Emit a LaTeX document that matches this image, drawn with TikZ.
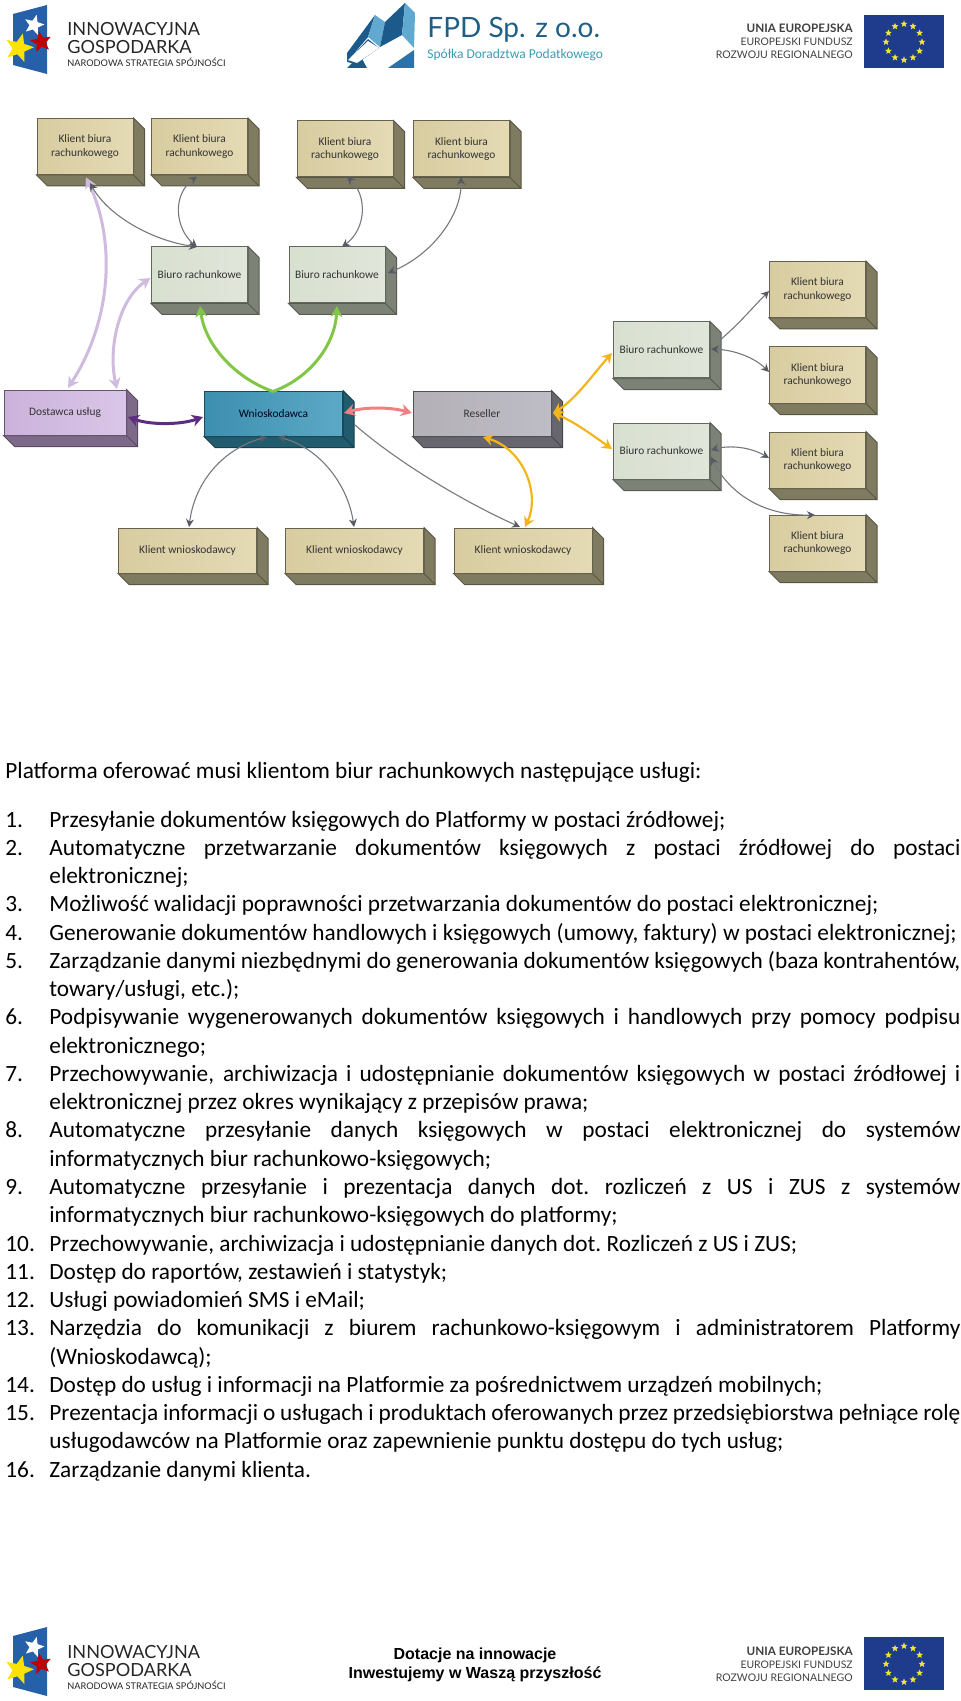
\documentclass[tikz,border=0pt]{standalone}
\usepackage{fontspec}
\setmainfont{Carlito}
\newfontfamily\logofont{Lato}
\newfontfamily\arialfont{Liberation Sans}
\usetikzlibrary{arrows.meta, shapes.geometric}
\hyphenpenalty=10000
\definecolor{beigeA}{HTML}{D8CCA0}
\definecolor{beigeB}{HTML}{E4DAB4}
\definecolor{beigeS}{HTML}{7F7B60}
\definecolor{sageA}{HTML}{D8E0D0}
\definecolor{sageB}{HTML}{E0E6DA}
\definecolor{sageS}{HTML}{7C8276}
\definecolor{lilacA}{HTML}{CBB2DB}
\definecolor{lilacB}{HTML}{DAC6E8}
\definecolor{lilacS}{HTML}{7D6A88}
\definecolor{tealA}{HTML}{3D8FB0}
\definecolor{tealB}{HTML}{5CA9C6}
\definecolor{tealS}{HTML}{215B6E}
\definecolor{greyA}{HTML}{B3B0B8}
\definecolor{greyB}{HTML}{BEBCC4}
\definecolor{greyS}{HTML}{67656D}
\definecolor{linkgrey}{HTML}{75787F}
\definecolor{tipgrey}{HTML}{565A63}
\definecolor{palelilac}{HTML}{CFBBDE}
\definecolor{darkviolet}{HTML}{5E2E7E}
\definecolor{leaf}{HTML}{82C646}
\definecolor{salmon}{HTML}{F47F82}
\definecolor{amber}{HTML}{F2B51C}
\definecolor{fpddark}{HTML}{1C5A8C}
\definecolor{fpdmid}{HTML}{2A72A8}
\definecolor{fpdlight}{HTML}{62A9D2}
\definecolor{fpdtext}{HTML}{1F5F86}
\definecolor{fpdsub}{HTML}{3B9BB5}
\definecolor{igblue}{HTML}{2560A8}
\definecolor{eublue}{HTML}{1F3C8C}
\definecolor{eustar}{HTML}{EFE63A}
\tikzset{
  block/.style n args={3}{draw=#3!80!black, line width=.5pt, left color=#1, right color=#2,
    inner sep=0pt, align=center, text=black!80, font=\fontsize{5.7}{6.6}\selectfont,
    append after command={\pgfextra{\let\LN\tikzlastnode
      \draw[fill=#3, draw=#3!70!black, line width=.5pt] (\LN.north east) -- +(11,11)
        -- ([shift={(11,11)}]\LN.south east) -- ([shift={(11,11)}]\LN.south west)
        -- (\LN.south west) -- (\LN.south east) -- cycle;
      \draw[draw=#3!70!black, line width=.4pt] (\LN.south east) -- +(11,11);}}},
  small/.style={minimum width=48pt, minimum height=28pt},
  wide/.style={minimum width=69pt, minimum height=22.5pt},
  link/.style={draw=linkgrey, line width=.55pt, {Stealth[length=4pt,width=4pt,color=tipgrey]}-{Stealth[length=4pt,width=4pt,color=tipgrey]}},
  oneway/.style={draw=linkgrey, line width=.55pt, -{Stealth[length=4pt,width=4pt,color=tipgrey]}},
  band/.style={draw=#1, line width=1.5pt, {Stealth[length=5.5pt,width=6pt]}-{Stealth[length=5.5pt,width=6pt]}},
  leafband/.style={draw=leaf, line width=1.5pt, -{Stealth[length=5.5pt,width=6pt]}},
  goldband/.style={draw=amber, line width=1.1pt, {Stealth[length=5pt,width=5.5pt]}-{Stealth[length=5pt,width=5.5pt]}},
  item/.style={anchor=base west, inner sep=0pt, text width=455.5pt, align=justify, font=\fontsize{11.65}{14.14}\selectfont},
  itemnum/.style={anchor=base west, inner sep=0pt, font=\fontsize{11.65}{14.14}\selectfont},
  logotxt/.style={anchor=base west, inner sep=0pt, text=black!85, font=\logofont\fontsize{#1}{#1}\selectfont},
  eutxt/.style={anchor=base east, inner sep=0pt, text=black!75, font=\logofont\fontsize{#1}{#1}\selectfont},
  polstar/.style={star, star points=5, star point ratio=2.3, inner sep=0pt, minimum size=#1},
}
\begin{document}
\begin{tikzpicture}[x=0.5pt, y=-0.5pt]
\useasboundingbox (0,0) rectangle (960,1701);

% logos, top and bottom
\foreach \dy in {0,1622} {
\begin{scope}[shift={(0,\dy)}]
    \fill[igblue] (13,14) -- (47,5) -- (47,74) -- (13,65) -- cycle;
    \node[polstar=10.5pt, fill=white, rotate=-15] (igwhite\dy) at (34,25) {};
    \node[polstar=11pt, fill=red!75!black, rotate=10] (igred\dy) at (41,42) {};
    \node[polstar=15pt, fill=yellow!85!orange, rotate=-15] (igyellow\dy) at (19,48) {};
    \node[logotxt=9.05] (iga\dy) at (67,36) {INNOWACYJNA};
    \node[logotxt=9.05] (igb\dy) at (67,54) {GOSPODARKA};
    \node[logotxt=4.6] (igc\dy) at (67,67) {NARODOWA STRATEGIA SPÓJNOŚCI};
    \node[eutxt=5.85, font=\logofont\bfseries\fontsize{5.85}{5.85}\selectfont] (eua\dy) at (853,33) {UNIA EUROPEJSKA};
    \node[eutxt=5.2] (eub\dy) at (853,46) {EUROPEJSKI FUNDUSZ};
    \node[eutxt=5.25] (euc\dy) at (853,59) {ROZWOJU REGIONALNEGO};
    \fill[eublue] (864,15) rectangle (944,68);
    \foreach \a in {0,30,...,330}
        \node[polstar=3.6pt, fill=eustar] (star\a\dy) at ({904+18*cos(\a)},{42+18*sin(\a)}) {};
\end{scope}
}

% fpd logo
\fill[fpddark] (347,53) -- (375,15) -- (368,37) -- (347,62) -- cycle;
\fill[fpdlight] (375,15) -- (385,22) -- (380,47) -- (368,37) -- cycle;
\fill[fpddark] (380,47) -- (385,22) -- (405,3) -- (402,35) -- cycle;
\fill[fpdlight] (405,3) -- (415,13) -- (414,48) -- (402,35) -- cycle;
\fill[fpddark] (347,68) -- (367,68) -- (360,55) -- cycle;
\fill[fpdmid] (388,68) -- (414,50) -- (414,68) -- cycle;
\fill[fpddark] (347,62) -- (368,39) -- (379,48) -- (356,64) -- cycle;
\fill[white] (348,60) -- (368,41) -- (379,48) -- (357,63) -- cycle;
\node[anchor=base west, inner sep=0pt, text=fpdtext, font=\logofont\fontsize{14}{14}\selectfont] (fpdname) at (427,38) {FPD Sp. z o.o.};
\node[anchor=base west, inner sep=0pt, text=fpdsub, font=\fontsize{6.75}{8}\selectfont] (fpdsub) at (427,59) {Spółka Doradztwa Podatkowego};

% bottom slogan
\node[inner sep=0pt, anchor=base, font=\arialfont\bfseries\fontsize{8}{8}\selectfont] (slogana) at (475,1659) {Dotacje na innowacje};
\node[inner sep=0pt, anchor=base, font=\arialfont\bfseries\fontsize{8}{8}\selectfont] (sloganb) at (475,1678) {Inwestujemy w Waszą przyszłość};

% diagram
\node[block={beigeA}{beigeB}{beigeS}, small] (kbA) at (85,146.5) {Klient biura\\rachunkowego};
\node[block={beigeA}{beigeB}{beigeS}, small] (kbB) at (199.5,146.5) {Klient biura\\rachunkowego};
\node[block={beigeA}{beigeB}{beigeS}, small] (kbC) at (345,149) {Klient biura\\rachunkowego};
\node[block={beigeA}{beigeB}{beigeS}, small] (kbD) at (461.5,149) {Klient biura\\rachunkowego};
\node[block={sageA}{sageB}{sageS}, small] (brA) at (199.5,275) {Biuro rachunkowe};
\node[block={sageA}{sageB}{sageS}, small] (brB) at (337,275) {Biuro rachunkowe};
\node[block={lilacA}{lilacB}{lilacS}, minimum width=61pt, minimum height=22.5pt] (dost) at (65,412.5) {Dostawca usług};
\node[block={tealA}{tealB}{tealS}, wide, text=black!90!blue] (wnio) at (273.5,413.5) {Wnioskodawca};
\node[block={greyA}{greyB}{greyS}, wide] (resel) at (482,413.5) {Reseller};
\node[block={beigeA}{beigeB}{beigeS}, wide] (kwA) at (187.5,550.5) {Klient wnioskodawcy};
\node[block={beigeA}{beigeB}{beigeS}, wide] (kwB) at (354.5,550.5) {Klient wnioskodawcy};
\node[block={beigeA}{beigeB}{beigeS}, wide] (kwC) at (523,550.5) {Klient wnioskodawcy};
\node[block={sageA}{sageB}{sageS}, small] (brC) at (661.5,350) {Biuro rachunkowe};
\node[block={sageA}{sageB}{sageS}, small] (brD) at (661.5,451) {Biuro rachunkowe};
\node[block={beigeA}{beigeB}{beigeS}, small] (kbE) at (817.5,289.5) {Klient biura\\rachunkowego};
\node[block={beigeA}{beigeB}{beigeS}, small] (kbF) at (817.5,375) {Klient biura\\rachunkowego};
\node[block={beigeA}{beigeB}{beigeS}, small] (kbG) at (817.5,460) {Klient biura\\rachunkowego};
\node[block={beigeA}{beigeB}{beigeS}, small] (kbH) at (817.5,543) {Klient biura\\rachunkowego};

\path[band=palelilac] ([shift={(3,-24.5)}]dost.center) .. controls (112,320) and (116,240) .. ([shift={(1,31)}]kbA.center);
\path[band=palelilac] ([shift={(52,-23.5)}]dost.center) .. controls (108,350) and (118,300) .. ([shift={(-49,3)}]brA.center);
\draw[link] ([shift={(5,36.5)}]kbA.center) .. controls (108,215) and (150,240) .. ([shift={(-2.5,-28)}]brA.center);
\draw[link] ([shift={(-2.5,30)}]kbB.center) .. controls (172,195) and (175,228) .. ([shift={(-2.5,-28)}]brA.center);
\draw[link] ([shift={(2,28)}]kbC.center) .. controls (367,195) and (367,228) .. ([shift={(5,-28)}]brB.center);
\draw[link] ([shift={(-.5,28)}]kbD.center) .. controls (462,215) and (432,255) .. ([shift={(51,-2)}]brB.center);
\path[leafband] ([shift={(-.5,-22)}]wnio.center) .. controls (235,378) and (205,345) .. ([shift={(.5,31)}]brA.center);
\path[leafband] ([shift={(-.5,-22)}]wnio.center) .. controls (310,378) and (335,345) .. ([shift={(0,31)}]brB.center);
\path[band=darkviolet] ([shift={(63,4.5)}]dost.center) .. controls (150,425) and (180,425) .. ([shift={(-70.5,3.5)}]wnio.center);
\path[band=salmon] ([shift={(70.5,-.5)}]wnio.center) .. controls (365,407) and (390,407) .. ([shift={(-70,-.5)}]resel.center);
\draw[link] ([shift={(-6.5,23.5)}]wnio.center) .. controls (225,448) and (195,480) .. ([shift={(1.5,-23.5)}]kwA.center);
\draw[link] ([shift={(4.5,23.5)}]wnio.center) .. controls (320,448) and (348,485) .. ([shift={(-.5,-23.5)}]kwB.center);
\draw[oneway] ([shift={(81.5,11.5)}]wnio.center) .. controls (395,460) and (460,500) .. ([shift={(-3,-23.5)}]kwC.center);
\path[goldband] ([shift={(71,-.5)}]resel.center) .. controls (575,400) and (595,372) .. ([shift={(-49.5,3)}]brC.center);
\path[goldband] ([shift={(71,-.5)}]resel.center) .. controls (575,422) and (595,437) .. ([shift={(-49.5,-2)}]brD.center);
\path[goldband] ([shift={(1,23.5)}]resel.center) .. controls (525,450) and (540,495) .. ([shift={(2,-23.5)}]kwC.center);
\draw[oneway] ([shift={(58.5,-10)}]brC.center) .. controls (738,325) and (755,305) .. ([shift={(-48.5,1.5)}]kbE.center);
\draw[link] ([shift={(49.5,-1)}]brC.center) .. controls (735,350) and (755,358) .. ([shift={(-48.5,-3)}]kbF.center);
\draw[link] ([shift={(49.5,-1)}]brD.center) .. controls (730,445) and (750,447) .. ([shift={(-48.5,-2)}]kbG.center);
\draw[link] ([shift={(49.5,6)}]brD.center) .. controls (730,495) and (765,516) .. ([shift={(-2.5,-28)}]kbH.center);

% text
\node[itemnum] (intro) at (5,778) {Platforma oferować musi klientom biur rachunkowych następujące usługi:};
\foreach \num/\lineno/\txt in {
  1/0/{Przesyłanie dokumentów księgowych do Platformy w postaci źródłowej;},
  2/1/{Automatyczne przetwarzanie dokumentów księgowych z postaci źródłowej do postaci\linebreak elektronicznej;},
  3/3/{Możliwość walidacji poprawności przetwarzania dokumentów do postaci elektronicznej;},
  4/4/{Generowanie dokumentów handlowych i księgowych (umowy, faktury) w postaci elektronicznej;},
  5/5/{Zarządzanie danymi niezbędnymi do generowania dokumentów księgowych (baza kontrahentów,\linebreak towary/usługi, etc.);},
  6/7/{Podpisywanie wygenerowanych dokumentów księgowych i handlowych przy pomocy podpisu\linebreak elektronicznego;},
  7/9/{Przechowywanie, archiwizacja i udostępnianie dokumentów księgowych w postaci źródłowej i\linebreak elektronicznej przez okres wynikający z przepisów prawa;},
  8/11/{Automatyczne przesyłanie danych księgowych w postaci elektronicznej do systemów\linebreak informatycznych biur rachunkowo-księgowych;},
  9/13/{Automatyczne przesyłanie i prezentacja danych dot.\ rozliczeń z US i ZUS z systemów\linebreak informatycznych biur rachunkowo-księgowych do platformy;},
  10/15/{Przechowywanie, archiwizacja i udostępnianie danych dot.\ Rozliczeń z US i ZUS;},
  11/16/{Dostęp do raportów, zestawień i statystyk;},
  12/17/{Usługi powiadomień SMS i eMail;},
  13/18/{Narzędzia do komunikacji z biurem rachunkowo-księgowym i administratorem Platformy\linebreak (Wnioskodawcą);},
  14/20/{Dostęp do usług i informacji na Platformie za pośrednictwem urządzeń mobilnych;},
  15/21/{Prezentacja informacji o usługach i produktach oferowanych przez przedsiębiorstwa pełniące rolę\linebreak usługodawców na Platformie oraz zapewnienie punktu dostępu do tych usług;},
  16/23/{Zarządzanie danymi klienta.}} {
    \node[itemnum] (num\num) at (5,{827+28.27*\lineno}) {\num.};
    \node[item] (item\num) at (49,{827+28.27*\lineno}) {\txt};
}
\end{tikzpicture}
\end{document}
